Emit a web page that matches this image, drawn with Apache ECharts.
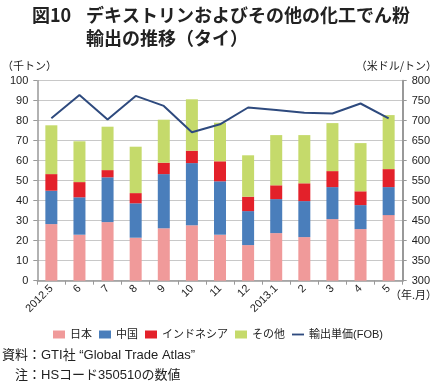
<!DOCTYPE html>
<html>
<head>
<meta charset="utf-8">
<script src="https://cdn.jsdelivr.net/npm/echarts@6/dist/echarts.min.js"></script>
<style>html,body{margin:0;padding:0;background:#fff}#c{width:439px;height:388px}</style>
</head>
<body>
<div id="c"></div>
<script>
var categories = ['2012.5','6','7','8','9','10','11','12','2013.1','2','3','4','5'];
var japan     = [28.3, 23.0, 29.3, 21.5, 26.2, 27.7, 23.0, 17.8, 23.8, 21.8, 30.8, 25.8, 32.8];
var china     = [16.7, 18.7, 22.4, 17.2, 27.1, 31.1, 26.7, 17.0, 17.0, 18.0, 16.0, 12.0, 14.0];
var indonesia = [8.3, 7.6, 3.6, 5.1, 5.7, 6.2, 10.0, 7.2, 6.9, 8.9, 8.0, 6.9, 9.0];
var others    = [24.4, 20.4, 21.7, 23.2, 21.5, 25.7, 19.3, 20.7, 25.1, 24.1, 24.0, 24.1, 27.0];
var unitPrice = [706, 764, 703, 762, 737, 671, 691, 733, 727, 720, 718, 743, 706];
var seriesNames = ['日本','中国','インドネシア','その他','輸出単価(FOB)'];

var FONT = '"Liberation Sans","Noto Sans CJK JP",sans-serif';
var chart = echarts.init(document.getElementById('c'));
var barW = 12;
chart.setOption({
  animation: false,
  textStyle: {fontFamily: FONT},
  grid: {left: 37.3, right: 36.3, top: 80.7, bottom: 107.3},
  legend: {
    left: 48, top: 324, itemWidth: 12, itemHeight: 8, itemGap: 7,
    textStyle: {fontSize: 11, color: '#222', fontFamily: FONT},
    data: [
      {name: seriesNames[0], icon: 'rect'},
      {name: seriesNames[1], icon: 'rect'},
      {name: seriesNames[2], icon: 'rect'},
      {name: seriesNames[3], icon: 'rect'},
      {name: seriesNames[4], icon: 'path://M0,0H13V2H0Z'}
    ]
  },
  graphic: [
    {type: 'text', left: 32, top: 6, style: {text: '図10', font: 'bold 18px "Noto Sans CJK JP"', fill: '#222'}},
    {type: 'text', left: 86, top: 6, style: {text: 'デキストリンおよびその他の化工でん粉', font: 'bold 18px "Noto Sans CJK JP"', fill: '#222'}},
    {type: 'text', left: 86, top: 29, style: {text: '輸出の推移（タイ）', font: 'bold 18px "Noto Sans CJK JP"', fill: '#222'}},
    {type: 'text', left: 2, top: 60, style: {text: '（千トン）', font: '11px "Noto Sans CJK JP"', fill: '#222'}},
    {type: 'text', right: 2, top: 60, style: {text: '（米ドル/トン）', font: '11px "Noto Sans CJK JP"', fill: '#222'}},
    {type: 'text', right: 2, top: 289, style: {text: '（年.月）', font: '11px "Noto Sans CJK JP"', fill: '#222'}},
    {type: 'text', left: 2, top: 349, style: {text: '資料：GTI社 “Global Trade Atlas”', font: '13px ' + FONT, fill: '#222'}},
    {type: 'text', left: 15, top: 369, style: {text: '注：HSコード350510の数値', font: '13px ' + FONT, fill: '#222'}}
  ],
  xAxis: {
    type: 'category', data: categories,
    axisLine: {lineStyle: {color: '#999', width: 1.5}},
    axisTick: {show: true, length: 4, lineStyle: {color: '#999'}},
    axisLabel: {rotate: 45, fontSize: 11, color: '#222', margin: 6, interval: 0}
  },
  yAxis: [
    {
      type: 'value', min: 0, max: 100, interval: 10,
      axisLine: {show: true, lineStyle: {color: '#999', width: 1.5}},
      axisTick: {show: true, length: 4, lineStyle: {color: '#999'}},
      axisLabel: {fontSize: 11, color: '#222', margin: 9},
      splitLine: {lineStyle: {color: '#c8c8c8', width: 1.2}}
    },
    {
      type: 'value', min: 300, max: 800, interval: 50,
      axisLine: {show: true, lineStyle: {color: '#999', width: 2}},
      axisTick: {show: true, length: 4, lineStyle: {color: '#999'}},
      axisLabel: {fontSize: 11, color: '#222', margin: 9},
      splitLine: {show: false}
    }
  ],
  series: [
    {name: seriesNames[0], type: 'bar', stack: 's', barWidth: barW, data: japan, itemStyle: {color: '#f09a9a'}},
    {name: seriesNames[1], type: 'bar', stack: 's', barWidth: barW, data: china, itemStyle: {color: '#4a7ebb'}},
    {name: seriesNames[2], type: 'bar', stack: 's', barWidth: barW, data: indonesia, itemStyle: {color: '#e3212a'}},
    {name: seriesNames[3], type: 'bar', stack: 's', barWidth: barW, data: others, itemStyle: {color: '#c5da6b'}},
    {name: seriesNames[4], type: 'line', yAxisIndex: 1, data: unitPrice, symbol: 'none',
     lineStyle: {color: '#2e4a7e', width: 2}, itemStyle: {color: '#2e4a7e'}, z: 5}
  ]
});
</script>
</body>
</html>
